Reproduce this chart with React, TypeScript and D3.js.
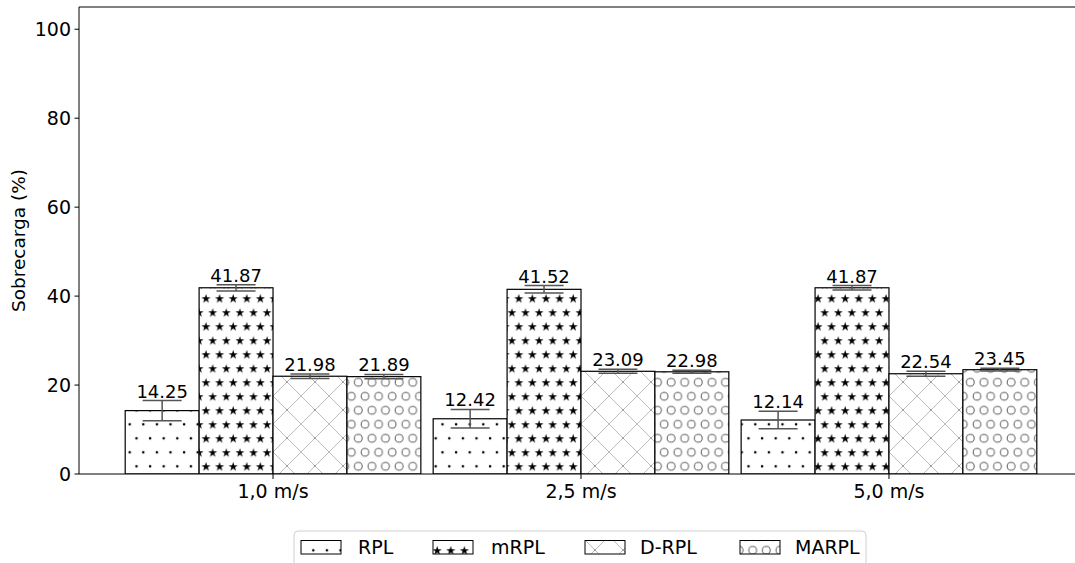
import * as d3 from "d3";

// data
const groups = ["1,0 m/s", "2,5 m/s", "5,0 m/s"];
const series = ["RPL", "mRPL", "D-RPL", "MARPL"];
const rplValues = [14.25, 12.42, 12.14];
const mrplValues = [41.87, 41.52, 41.87];
const drplValues = [21.98, 23.09, 22.54];
const marplValues = [21.89, 22.98, 23.45];
const rplErrors = [2.25, 2.1, 1.95];
const mrplErrors = [0.7, 0.85, 0.5];
const drplErrors = [0.5, 0.45, 0.55];
const marplErrors = [0.5, 0.35, 0.3];
const yTicks = [0, 20, 40, 60, 80, 100];

const values = [rplValues, mrplValues, drplValues, marplValues];
const errors = [rplErrors, mrplErrors, drplErrors, marplErrors];
const patternIds = ["hDots", "hStars", "hCross", "hCircles"];

const width = 1075,
    height = 563;
const left = 79,
    top = 7,
    bottom = 474,
    right = 1083;

const font = "'DejaVu Sans', sans-serif";

function App() {
    const x = d3.scaleLinear().domain([-0.63, 2.63]).range([left, right]);
    const y = d3.scaleLinear().domain([0, 105]).range([bottom, top]);
    const barW = x(0.24) - x(0);
    const offsets = [-1.5, -0.5, 0.5, 1.5];

    const star = d3.symbol().type(d3.symbolStar).size(26)();

    // legend entries (patch left x, text x)
    const legendItems = [
        [301, 358],
        [433, 491],
        [585, 640],
        [740, 795],
    ];

    return (
        <svg
            width={width}
            height={height}
            style={{ position: "absolute", left: 0, top: 0, background: "#fff" }}
            fontFamily={font}
        >
            <defs>
                <pattern id="hDots" patternUnits="userSpaceOnUse" x={140.3} y={421.3} width={13.6} height={28}>
                    <circle cx={3} cy={3} r={1.3} fill="#000" />
                    <circle cx={9.8} cy={17} r={1.3} fill="#000" />
                </pattern>
                <pattern id="hStars" patternUnits="userSpaceOnUse" x={199} y={291.3} width={13.6} height={28}>
                    <path d={star} transform="translate(7,7.5)" fill="#000" />
                    <path d={star} transform="translate(13.8,21.5)" fill="#000" />
                    <path d={star} transform="translate(0,21.5)" fill="#000" />
                </pattern>
                <pattern id="hCross" patternUnits="userSpaceOnUse" x={273} y={340} width={28} height={28}>
                    <path d="M0,0L28,28M28,0L0,28" stroke="#b4b4b4" strokeWidth={0.9} fill="none" />
                    <circle cx={14} cy={14} r={0.7} fill="#777" />
                </pattern>
                <pattern id="hCircles" patternUnits="userSpaceOnUse" x={351.3} y={375.3} width={13.6} height={28}>
                    <circle cx={7} cy={7} r={3.9} fill="none" stroke="#444" strokeWidth={0.9} />
                    <circle cx={13.8} cy={21} r={3.9} fill="none" stroke="#444" strokeWidth={0.9} />
                    <circle cx={0} cy={21} r={3.9} fill="none" stroke="#444" strokeWidth={0.9} />
                </pattern>
                <clipPath id="plotClip">
                    <rect x={left} y={top} width={right - left} height={bottom - top} />
                </clipPath>
            </defs>

            {/* bars */}
            <g clipPath="url(#plotClip)">
                {series.map((s, si) =>
                    groups.map((g, gi) => {
                        const bx = x(gi + offsets[si] * 0.24) - barW / 2;
                        const v = values[si][gi];
                        return (
                            <g key={s + g}>
                                <rect x={bx} y={y(v)} width={barW} height={y(0) - y(v)} fill="#fff" />
                                <rect
                                    x={bx}
                                    y={y(v)}
                                    width={barW}
                                    height={y(0) - y(v)}
                                    fill={`url(#${patternIds[si]})`}
                                    stroke="#000"
                                    strokeWidth={1.2}
                                />
                            </g>
                        );
                    })
                )}
            </g>

            {/* error bars and value labels */}
            {series.map((s, si) =>
                groups.map((g, gi) => {
                    const cx = x(gi + offsets[si] * 0.24);
                    const v = values[si][gi];
                    const e = errors[si][gi];
                    return (
                        <g key={"e" + s + g}>
                            <line x1={cx} x2={cx} y1={y(v - e)} y2={y(v + e)} stroke="#555" strokeWidth={1.5} />
                            <line x1={cx - 19.5} x2={cx + 19.5} y1={y(v - e)} y2={y(v - e)} stroke="#555" strokeWidth={1.5} />
                            <line x1={cx - 19.5} x2={cx + 19.5} y1={y(v + e)} y2={y(v + e)} stroke="#555" strokeWidth={1.5} />
                            <text x={cx} y={y(v + e) - 3} textAnchor="middle" fontSize={18} fill="#000">
                                {v.toFixed(2)}
                            </text>
                        </g>
                    );
                })
            )}

            {/* spines */}
            <line x1={left} x2={left} y1={top} y2={bottom} stroke="#000" strokeWidth={1} />
            <line x1={left} x2={right} y1={top} y2={top} stroke="#000" strokeWidth={1} />
            <line x1={left} x2={right} y1={bottom} y2={bottom} stroke="#000" strokeWidth={1.2} />

            {/* y axis */}
            {yTicks.map((t) => (
                <g key={t} transform={`translate(0,${y(t)})`}>
                    <line x1={left - 4.5} x2={left} stroke="#000" strokeWidth={1} />
                    <text x={left - 8} dy="0.36em" textAnchor="end" fontSize={19} fill="#000">
                        {t}
                    </text>
                </g>
            ))}
            <text
                transform={`translate(25,${(top + bottom) / 2}) rotate(-90)`}
                textAnchor="middle"
                fontSize={18.5}
                fill="#000"
            >
                Sobrecarga (%)
            </text>

            {/* x axis */}
            {groups.map((g, gi) => (
                <g key={g} transform={`translate(${x(gi)},0)`}>
                    <line y1={bottom} y2={bottom + 5} stroke="#000" strokeWidth={1} />
                    <text y={497.5} textAnchor="middle" fontSize={19} fill="#000">
                        {g}
                    </text>
                </g>
            ))}

            {/* legend */}
            <rect x={294} y={531} width={572} height={50} rx={4} fill="#fff" stroke="#d0d0d0" strokeWidth={1} />
            {series.map((s, si) => (
                <g key={"l" + s}>
                    <rect x={legendItems[si][0]} y={540.5} width={40} height={13.5} fill="#fff" />
                    <rect
                        x={legendItems[si][0]}
                        y={540.5}
                        width={40}
                        height={13.5}
                        fill={`url(#${patternIds[si]})`}
                        stroke="#000"
                        strokeWidth={1}
                    />
                    <text x={legendItems[si][1]} y={554} fontSize={19} fill="#000">
                        {s}
                    </text>
                </g>
            ))}
        </svg>
    );
}

export default App;
